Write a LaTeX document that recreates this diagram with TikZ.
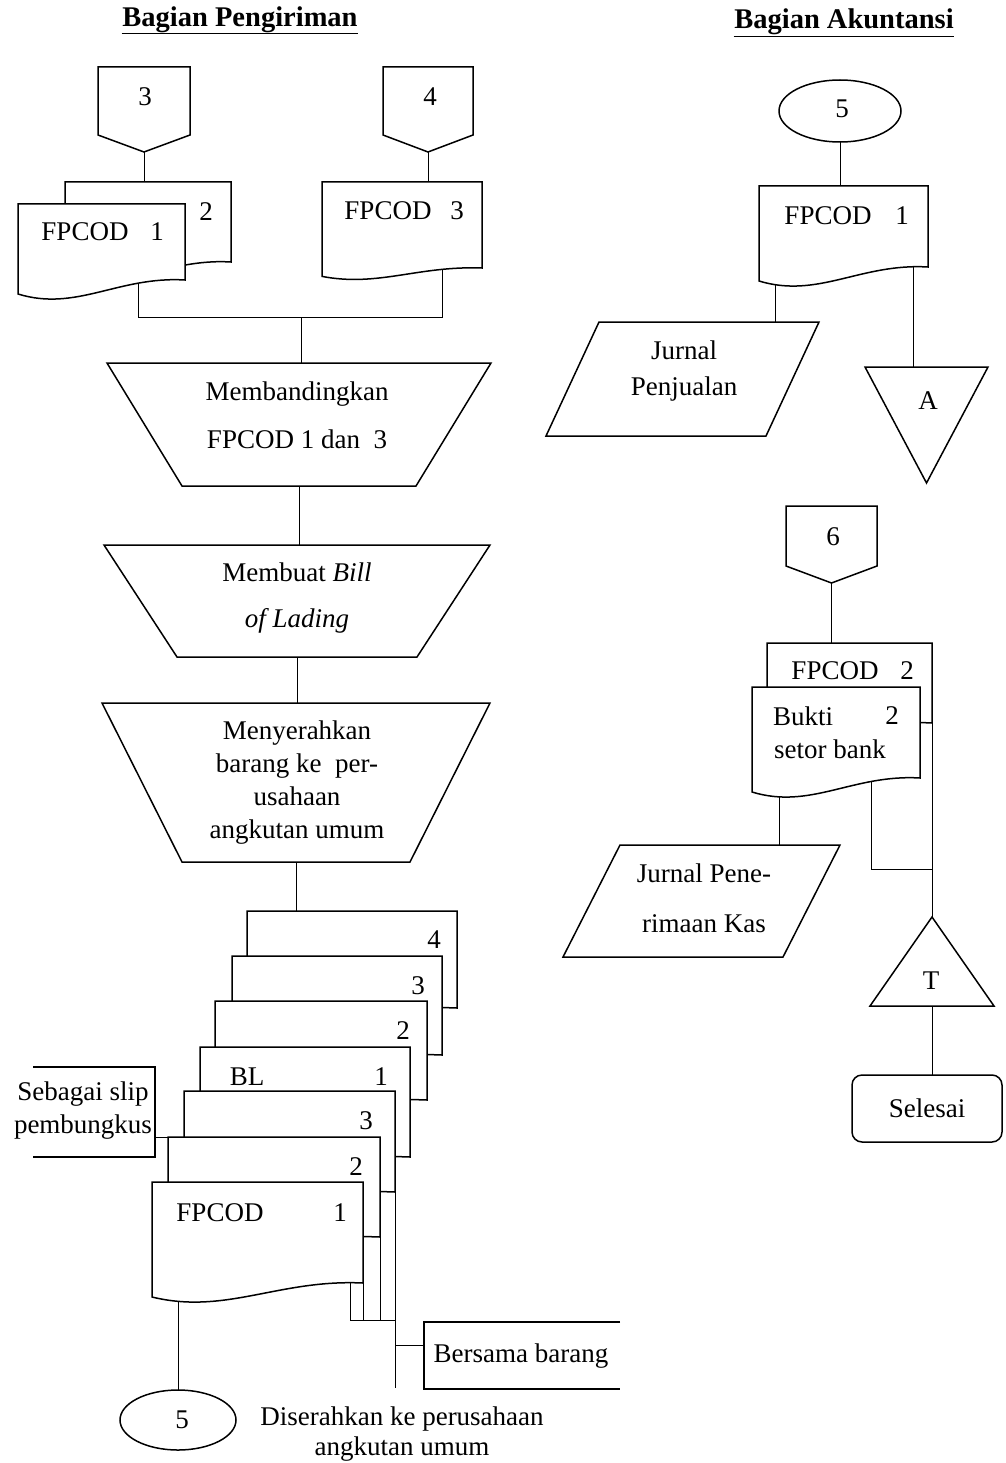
\documentclass[tikz,border=0pt]{standalone}
\usepackage{fontspec}
\setmainfont{Liberation Serif}
\usetikzlibrary{shapes.geometric,backgrounds}

\makeatletter
% document symbol: flat top, wavy bottom (right corner raised by the wave depth)
\newdimen\pd@wave \pd@wave=20pt
\newdimen\pd@tip  \pd@tip=17pt
\tikzset{doc wave/.code={\pd@wave=#1\relax}}
\pgfdeclareshape{paperdoc}{%
  \inheritsavedanchors[from=rectangle]%
  \saveddimen{\pdwave}{\pgf@x=\pd@wave}%
  \inheritanchorborder[from=rectangle]%
  \inheritanchor[from=rectangle]{center}%
  \inheritanchor[from=rectangle]{mid}%
  \inheritanchor[from=rectangle]{base}%
  \inheritanchor[from=rectangle]{text}%
  \inheritanchor[from=rectangle]{north}%
  \inheritanchor[from=rectangle]{south}%
  \inheritanchor[from=rectangle]{east}%
  \inheritanchor[from=rectangle]{west}%
  \inheritanchor[from=rectangle]{north east}%
  \inheritanchor[from=rectangle]{north west}%
  \inheritanchor[from=rectangle]{south east}%
  \inheritanchor[from=rectangle]{south west}%
  \backgroundpath{%
    \southwest \pgf@xa=\pgf@x \pgf@ya=\pgf@y
    \northeast \pgf@xb=\pgf@x \pgf@yb=\pgf@y
    \edef\pd@l{\the\pgf@xa}\edef\pd@r{\the\pgf@xb}%
    \edef\pd@b{\the\pgf@ya}\edef\pd@t{\the\pgf@yb}%
    \pgfmathsetlengthmacro\pd@w{\pd@r-\pd@l}%
    \pgfmathsetlengthmacro\pd@ca{\pd@l+0.6*\pd@w}%
    \pgfmathsetlengthmacro\pd@cb{\pd@l+0.35*\pd@w}%
    \pgfmathsetlengthmacro\pd@yr{\pd@b+\pdwave}%
    \pgfmathsetlengthmacro\pd@yca{\pd@b+1.2*\pdwave}%
    \pgfmathsetlengthmacro\pd@ycb{\pd@b-0.6*\pdwave}%
    \pgfmathsetlengthmacro\pd@yl{\pd@b+0.3*\pdwave}%
    \pgfpathmoveto{\pgfqpoint{\pd@l}{\pd@t}}%
    \pgfpathlineto{\pgfqpoint{\pd@r}{\pd@t}}%
    \pgfpathlineto{\pgfqpoint{\pd@r}{\pd@yr}}%
    \pgfpathcurveto{\pgfqpoint{\pd@ca}{\pd@yca}}{\pgfqpoint{\pd@cb}{\pd@ycb}}{\pgfqpoint{\pd@l}{\pd@yl}}%
    \pgfpathclose
  }%
}
% off-page connector: box with a point below; anchor "tip" is the point
\pgfdeclareshape{offpage}{%
  \inheritsavedanchors[from=rectangle]%
  \inheritanchorborder[from=rectangle]%
  \inheritanchor[from=rectangle]{center}%
  \inheritanchor[from=rectangle]{north}%
  \inheritanchor[from=rectangle]{south}%
  \inheritanchor[from=rectangle]{east}%
  \inheritanchor[from=rectangle]{west}%
  \inheritanchor[from=rectangle]{north east}%
  \inheritanchor[from=rectangle]{north west}%
  \inheritanchor[from=rectangle]{south east}%
  \inheritanchor[from=rectangle]{south west}%
  \anchor{tip}{\northeast \pgf@xa=\pgf@x \southwest \advance\pgf@x by \pgf@xa \pgf@x=.5\pgf@x \advance\pgf@y by -\pd@tip}%
  \backgroundpath{%
    \southwest \pgf@xa=\pgf@x \pgf@ya=\pgf@y
    \northeast \pgf@xb=\pgf@x \pgf@yb=\pgf@y
    \edef\op@l{\the\pgf@xa}\edef\op@r{\the\pgf@xb}%
    \edef\op@b{\the\pgf@ya}\edef\op@t{\the\pgf@yb}%
    \pgfmathsetlengthmacro\op@m{0.5*(\op@l+\op@r)}%
    \pgfmathsetlengthmacro\op@p{\op@b-\pd@tip}%
    \pgfpathmoveto{\pgfqpoint{\op@l}{\op@t}}%
    \pgfpathlineto{\pgfqpoint{\op@r}{\op@t}}%
    \pgfpathlineto{\pgfqpoint{\op@r}{\op@b}}%
    \pgfpathlineto{\pgfqpoint{\op@m}{\op@p}}%
    \pgfpathlineto{\pgfqpoint{\op@l}{\op@b}}%
    \pgfpathclose
  }%
}
\makeatother

\newcommand\bodyfont{\fontsize{27}{32}\selectfont}
\newcommand\headfont{\fontsize{28.5}{32}\selectfont\bfseries}

\tikzset{
  lbl/.style={inner sep=0pt, outer sep=0pt, font=\bodyfont},
  frame/.style={shape=rectangle, inner sep=0pt, outer sep=0pt},
  paper/.style={shape=paperdoc, draw, fill=white, inner sep=0pt, outer sep=0pt},
  pagelink/.style={shape=offpage, draw, fill=white, inner sep=0pt, outer sep=0pt},
  onpage/.style={shape=ellipse, draw, fill=white, inner sep=0pt, outer sep=0pt, font=\bodyfont},
  endbox/.style={shape=rectangle, draw, rounded corners=10pt, inner sep=0pt, outer sep=0pt, font=\bodyfont},
  outline/.style={draw, fill=white},
}

\begin{document}
\begin{tikzpicture}[x=1pt, y=-1pt, line width=1.5pt, line join=miter]
\begin{scope}[on background layer]
  \fill[white] (0,0) rectangle (1005,1463);
\end{scope}
\useasboundingbox (0,0) rectangle (1005,1463);

% ---------- headings ----------
\node[inner sep=0pt, font=\headfont] (headL) at (240,20) {Bagian Pengiriman};
\node[inner sep=0pt, font=\headfont] (headR) at (844,22) {Bagian Akuntansi};
\draw ([yshift=-7pt]headL.base west) -- ([yshift=-7pt]headL.base east);
\draw ([yshift=-8pt]headR.base west) -- ([yshift=-8pt]headR.base east);

% ---------- Bagian Pengiriman ----------
\node[pagelink, minimum width=92, minimum height=68] (off3) at (144,101) {};
\node[lbl] (off3-t) at (145,97) {3};
\node[pagelink, minimum width=90, minimum height=68] (off4) at (428,101) {};
\node[lbl] (off4-t) at (430,97) {4};

\node[paper, minimum width=166, minimum height=100] (docB2) at (148,232) {};
\node[lbl] (docB2-n) at (206,212) {2};
\node[paper, minimum width=167, minimum height=96] (docF1) at (101.5,252) {};
\node[lbl] (docF1-t) at (85,232) {FPCOD};
\node[lbl] (docF1-n) at (157,232) {1};
\node[paper, doc wave=12pt, minimum width=160, minimum height=98] (docF3) at (402,231) {};
\node[lbl] (docF3-t) at (388,211) {FPCOD};
\node[lbl] (docF3-n) at (457,211) {3};

\coordinate (j1L) at (138,317);
\coordinate (j1R) at (442,317);
\coordinate (j1M) at (301,317);

\node[frame, minimum width=384, minimum height=123] (trap1) at (299,424.5) {};
\draw[outline] (trap1.north west) -- (trap1.north east) -- ([xshift=-75pt]trap1.south east) -- ([xshift=75pt]trap1.south west) -- cycle;
\node[lbl, align=center] (trap1-t) at (297,415) {Membandingkan\\[16pt]FPCOD 1 dan \ 3};

\node[frame, minimum width=386, minimum height=112] (trap2) at (297,601) {};
\draw[outline] (trap2.north west) -- (trap2.north east) -- ([xshift=-73pt]trap2.south east) -- ([xshift=73pt]trap2.south west) -- cycle;
\node[lbl, align=center] (trap2-t) at (297,598) {Membuat \textit{Bill}\\[14pt]\textit{of Lading}};

\node[frame, minimum width=388, minimum height=159] (trap3) at (296,782.5) {};
\draw[outline] (trap3.north west) -- (trap3.north east) -- ([xshift=-80pt]trap3.south east) -- ([xshift=80pt]trap3.south west) -- cycle;
\node[lbl, align=center, font=\fontsize{27}{33}\selectfont] (trap3-t) at (297,783) {Menyerahkan\\barang ke \ per-\\usahaan\\angkutan umum};

% stack of copies, back to front
\node[paper, minimum width=210, minimum height=117] (D4) at (352,969.5) {};
\node[lbl] (D4-n) at (434,940) {4};
\node[paper, minimum width=210, minimum height=119] (D3) at (337,1015.5) {};
\node[lbl] (D3-n) at (418,986) {3};
\node[paper, minimum width=212, minimum height=119] (D2) at (321,1060.5) {};
\node[lbl] (D2-n) at (403,1031) {2};
\node[paper, minimum width=210, minimum height=130] (BL) at (305,1112) {};
\node[lbl] (BL-t) at (247,1077) {BL};
\node[lbl] (BL-n) at (381,1077) {1};
\node[paper, minimum width=211, minimum height=121] (F3) at (289.5,1151.5) {};
\node[lbl] (F3-n) at (366,1121) {3};
\node[paper, minimum width=212, minimum height=120] (F2) at (274,1197) {};
\node[lbl] (F2-n) at (356,1167) {2};
\node[paper, minimum width=211, minimum height=121] (F1) at (257.5,1242.5) {};
\node[lbl] (F1-t) at (220,1213) {FPCOD};
\node[lbl] (F1-n) at (340,1213) {1};

\node[frame, minimum width=122, minimum height=90] (slip) at (94,1112) {};
\draw (slip.north west) -- (slip.north east) -- (slip.south east) -- (slip.south west);
\node[lbl, align=center] (slip-t) at (83,1111) {Sebagai slip\\[1pt]pembungkus};

\node[frame, minimum width=196, minimum height=67] (barang) at (522,1355.5) {};
\draw (barang.north east) -- (barang.north west) -- (barang.south west) -- (barang.south east);
\node[lbl] (barang-t) at (521,1356) {Bersama barang};

\coordinate (s1) at (350,1320);
\coordinate (s2) at (363,1320);
\coordinate (s3) at (380,1320);
\coordinate (sM) at (395,1320);
\coordinate (sB) at (395,1345);
\coordinate (sE) at (395,1388);

\node[onpage, minimum width=116, minimum height=60] (link5L) at (178,1420) {};
\node[lbl] (link5L-t) at (182,1420) {5};
\node[lbl, align=center, font=\fontsize{27}{30}\selectfont] (handover) at (402,1434) {Diserahkan ke perusahaan\\angkutan umum};

% ---------- Bagian Akuntansi ----------
\node[onpage, minimum width=122, minimum height=62] (link5R) at (840,111) {};
\node[lbl] (link5R-t) at (842,109) {5};
\node[paper, minimum width=169, minimum height=101] (docR1) at (843.5,236.5) {};
\node[lbl] (docR1-t) at (828,216) {FPCOD};
\node[lbl] (docR1-n) at (902,216) {1};

\node[frame, minimum width=273, minimum height=114] (jp) at (682.5,379) {};
\draw[outline] ([xshift=53pt]jp.north west) -- (jp.north east) -- ([xshift=-53pt]jp.south east) -- (jp.south west) -- cycle;
\node[lbl, align=center] (jp-t) at (684,371) {Jurnal\\[4pt]Penjualan};
\coordinate (jpIn) at (775,322);

\node[frame, minimum width=123, minimum height=116] (triA) at (926.5,425) {};
\draw[outline] (triA.north west) -- (triA.north east) -- (triA.south) -- cycle;
\node[lbl] (triA-t) at (928,401) {A};
\coordinate (aIn) at (913,367);

\node[pagelink, minimum width=91, minimum height=60] (off6) at (831.5,536) {};
\node[lbl] (off6-t) at (833,537) {6};

\node[paper, minimum width=165, minimum height=100] (docR2b) at (849.5,693) {};
\node[lbl] (docR2b-t) at (835,671) {FPCOD};
\node[lbl] (docR2b-n) at (907,671) {2};
\node[paper, minimum width=168, minimum height=111] (docR2f) at (836,742.5) {};
\node[lbl] (docR2f-t) at (803,716) {Bukti};
\node[lbl] (docR2f-n) at (892,716) {2};
\node[lbl] (docR2f-u) at (830,749) {setor bank};

\coordinate (bk1) at (871,869);
\coordinate (bk2) at (932,869);
\coordinate (jpkIn) at (779,845);

\node[frame, minimum width=277, minimum height=112] (jpk) at (701.5,901) {};
\draw[outline] ([xshift=57pt]jpk.north west) -- (jpk.north east) -- ([xshift=-57pt]jpk.south east) -- (jpk.south west) -- cycle;
\node[lbl, align=center] (jpk-t) at (704,898) {Jurnal Pene-\\[18pt]rimaan Kas};

\node[frame, minimum width=124, minimum height=89] (triT) at (932,961.5) {};
\draw[outline] (triT.south west) -- (triT.south east) -- (triT.north) -- cycle;
\node[lbl] (triT-t) at (931,981) {T};

\node[endbox, minimum width=150, minimum height=67] (done) at (927,1108.5) {Selesai};

% ---------- flow lines (behind the symbols) ----------
\begin{scope}[on background layer]
  \draw (off3.tip) -- (off3.tip |- docB2.north);
  \draw (off4.tip) -- (off4.tip |- docF3.north);
  \draw (docF1.center -| j1L) -- (j1L) -- (j1R) -- (docF3.center -| j1R);
  \draw (j1M) -- (j1M |- trap1.north);
  \draw (trap1.south) -- (trap1.south |- trap2.north);
  \draw (trap2.south) -- (trap2.south |- trap3.north);
  \draw (trap3.south) -- (trap3.south |- D4.north);
  \draw (F1.center -| s1) -- (s1) -- (sM);
  \draw (F2.center -| s2) -- (s2);
  \draw (F3.center -| s3) -- (s3);
  \draw (BL.center -| sE) -- (sE);
  \draw (sB) -- (sB -| barang.west);
  \draw (slip.east |- F2.north west) -- (F2.north west);
  \draw (F1.center -| link5L.north) -- (link5L.north);
  \draw (link5R.south) -- (link5R.south |- docR1.north);
  \draw (docR1.center -| jpIn) -- (jpIn);
  \draw (docR1.center -| aIn) -- (aIn);
  \draw (off6.tip) -- (off6.tip |- docR2b.north);
  \draw (docR2b.center -| triT.north) -- (triT.north);
  \draw (docR2f.center -| bk1) -- (bk1) -- (bk2);
  \draw (docR2f.center -| jpkIn) -- (jpkIn);
  \draw (triT.south) -- (triT.south |- done.north);
\end{scope}
\end{tikzpicture}
\end{document}
